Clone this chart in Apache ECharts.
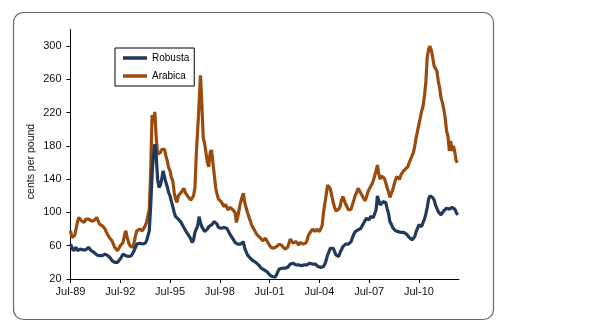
<!DOCTYPE html>
<html>
<head>
<meta charset="utf-8">
<script src="https://cdn.jsdelivr.net/npm/echarts@6/dist/echarts.min.js"></script>
<style>
html,body{margin:0;padding:0;background:#fff;}
#chart{width:590px;height:334px;}
</style>
</head>
<body>
<div id="chart"></div>
<script>
// Monthly series starting Jul-89 (cents per pound)
const robusta = [
62,58,54,56,58,54,52,56,58,55,53,55,57,58,56,54,53,52,50,49,
48,48,47,48,49,50,49,48,47,45,42,41,40,39,40,42,44,47,50,50,
48,48,47,48,48,50,54,58,62,63,63,62,62,62,63,66,68,78,108,145,
170,182,168,140,130,133,140,150,148,136,131,124,120,113,107,100,95,94,92,90,
88,87,82,79,76,74,71,68,64,67,76,80,84,95,88,83,80,77,77,80,
83,84,85,87,89,91,86,82,81,81,81,82,83,81,78,75,72,70,67,64,
63,62,61,62,64,65,57,53,49,47,45,43,42,41,40,38,37,35,33,31,
31,30,29,27,25,24,23,23,22,25,29,32,33,33,33,33,33,34,36,38,
40,39,38,37,36,37,36,36,35,37,38,37,38,39,38,38,38,38,37,35,
35,34,33,35,38,43,49,53,57,58,57,55,49,48,47,52,55,59,61,62,
63,62,61,65,70,74,77,78,79,80,81,83,87,90,93,92,91,95,97,94,
96,103,120,114,109,111,113,113,112,105,99,89,86,82,80,78,77,77,77,76,
75,76,77,74,73,70,69,67,68,71,77,81,85,84,83,88,92,98,106,116,
120,121,118,115,109,105,101,99,97,98,102,104,105,105,104,105,106,106,104,100,
97
];
const arabica = [
78,70,68,72,80,88,94,92,90,92,88,92,94,92,94,90,88,90,92,94,
90,86,86,84,86,80,76,74,70,68,66,62,58,56,54,56,60,58,64,72,
78,70,64,60,58,58,64,72,78,80,80,78,78,80,84,88,96,104,150,217,
208,221,190,170,168,172,176,178,176,168,162,154,150,142,138,124,116,112,120,122,
124,126,129,124,122,119,118,115,117,120,130,170,200,230,265,230,190,183,182,160,
155,172,175,160,145,130,122,116,114,113,110,107,110,108,103,106,107,104,102,100,
88,95,104,112,118,123,112,106,100,95,90,85,82,79,76,73,71,70,68,66,
67,69,68,63,61,58,58,57,58,59,60,62,63,60,59,56,54,58,63,68,
66,63,64,65,63,61,64,65,62,61,63,66,72,75,77,80,79,77,80,81,
77,77,84,100,111,122,133,134,128,120,112,106,102,101,104,107,115,119,115,110,
107,103,101,104,110,115,121,124,129,127,123,120,117,114,118,124,128,131,134,138,
144,150,157,146,140,144,143,141,136,130,125,118,120,127,133,139,143,144,140,145,
148,150,152,154,155,160,164,168,172,180,190,198,206,214,222,228,240,256,286,296,
300,295,286,276,274,270,258,250,238,232,224,214,198,192,174,186,174,180,172,162,
160
];
const seriesNames = ['Robusta', 'Arabica'];
const yTicks = [20, 60, 100, 140, 180, 220, 260, 300];
const yAxisTitle = 'cents per pound';
const monthNames = ['Jan','Feb','Mar','Apr','May','Jun','Jul','Aug','Sep','Oct','Nov','Dec'];
const startYear = 1989, startMonth = 6, monthCount = 282;

const categories = [];
for (let i = 0; i < monthCount; i++) {
  const m = startMonth + i;
  const y = (startYear + Math.floor(m / 12)) % 100;
  categories.push(monthNames[m % 12] + '-' + String(y).padStart(2, '0'));
}

const font = '"Liberation Sans", Arial, sans-serif';
const chart = echarts.init(document.getElementById('chart'), null, {renderer: 'canvas'});
chart.setOption({
  animation: false,
  backgroundColor: '#fff',
  graphic: [{
    type: 'rect',
    shape: {x: 13.5, y: 12.5, width: 480, height: 307, r: 10},
    style: {fill: 'none', stroke: '#6a6a6a', lineWidth: 1.2},
    z: -1
  }, {
    type: 'text',
    x: 31.5, y: 161.5,
    rotation: Math.PI / 2,
    style: {text: yAxisTitle, font: '10.5px ' + font, fill: '#111', align: 'center', verticalAlign: 'middle'}
  }],
  grid: {left: 70.5, right: 131, top: 29.5, bottom: 55, containLabel: false},
  legend: {
    data: seriesNames,
    orient: 'vertical',
    left: 115, top: 48,
    padding: [4, 5, 4, 8],
    icon: 'rect',
    itemWidth: 24, itemHeight: 3.5, itemGap: 6,
    borderColor: '#000', borderWidth: 1,
    backgroundColor: '#fff',
    textStyle: {fontFamily: font, fontSize: 10, color: '#000', lineHeight: 12}
  },
  xAxis: {
    type: 'category',
    data: categories,
    boundaryGap: false,
    axisLine: {lineStyle: {color: '#000', width: 1}},
    axisTick: {interval: 35, length: 4, lineStyle: {color: '#000'}},
    axisLabel: {interval: 35, margin: 7, fontFamily: font, fontSize: 11, color: '#111'},
    splitLine: {show: false}
  },
  yAxis: {
    type: 'value',
    min: 20, max: 320, interval: 40,
    axisLine: {show: true, lineStyle: {color: '#000', width: 1}},
    axisTick: {show: true, length: 4, customValues: yTicks, lineStyle: {color: '#000'}},
    axisLabel: {customValues: yTicks, margin: 9, fontFamily: font, fontSize: 11, color: '#111'},
    splitLine: {show: false}
  },
  series: [
    {name: seriesNames[0], type: 'line', data: robusta, symbol: 'none',
     lineStyle: {color: '#21395a', width: 3.2}, itemStyle: {color: '#21395a'}, z: 3},
    {name: seriesNames[1], type: 'line', data: arabica, symbol: 'none',
     lineStyle: {color: '#9a4b0e', width: 3.2}, itemStyle: {color: '#9a4b0e'}, z: 2}
  ]
});
</script>
</body>
</html>
